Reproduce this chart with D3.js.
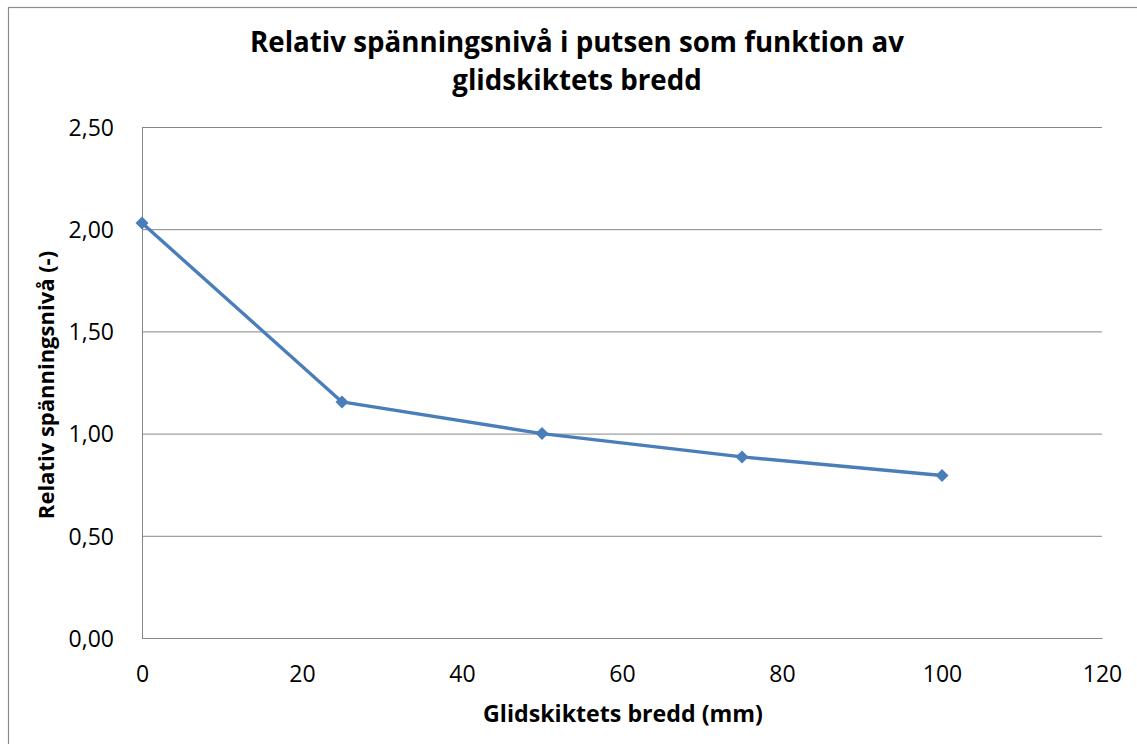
<!DOCTYPE html>
<html>
<head>
<meta charset="utf-8">
<script src="https://cdn.jsdelivr.net/npm/d3@7"></script>
<style>
  html, body { margin: 0; padding: 0; background: #fff; }
  svg { display: block; }
  text { font-family: "Open Sans", Lato, sans-serif; fill: #000; }
</style>
</head>
<body>
<svg id="chart" width="1137" height="744"></svg>
<script>
// Series: relative stress level in the render vs. width of the sliding layer
const widthMm = [0, 25, 50, 75, 100];
const stressLevel = [2.03, 1.155, 1.00, 0.886, 0.795];
const xTicks = [0, 20, 40, 60, 80, 100, 120];
const yTicks = [0, 0.5, 1.0, 1.5, 2.0, 2.5];
const titleLines = ["Relativ spänningsnivå i putsen som funktion av", "glidskiktets bredd"];
const xTitle = "Glidskiktets bredd (mm)";
const yTitle = "Relativ spänningsnivå (-)";

const svg = d3.select("#chart");
const W = 1137, H = 744;
const plot = { left: 142, right: 1102, top: 127, bottom: 638 };

const x = d3.scaleLinear().domain([0, 120]).range([plot.left, plot.right]);
const y = d3.scaleLinear().domain([0, 2.5]).range([plot.bottom, plot.top]);

// Outer chart frame
svg.append("rect")
  .attr("x", 8.5).attr("y", 7.5)
  .attr("width", W + 10).attr("height", H + 10)
  .attr("fill", "#fff").attr("stroke", "#8c8c8c").attr("stroke-width", 1.2);

// Horizontal gridlines with value labels
const yAxis = d3.axisLeft(y).tickValues(yTicks).tickSize(-(plot.right - plot.left))
  .tickFormat(d => d3.format(".2f")(d).replace(".", ","));
const gy = svg.append("g").attr("transform", `translate(${plot.left},0)`).call(yAxis);
gy.select(".domain").attr("stroke", "#868686");
gy.selectAll(".tick line").attr("stroke", "#868686").attr("stroke-width", 1);
gy.selectAll(".tick text").attr("x", -28).attr("dy", "0.36em")
  .style("font-size", "23px").style("font-family", "'Open Sans', sans-serif");

// Bottom axis
const xAxis = d3.axisBottom(x).tickValues(xTicks).tickSize(0).tickFormat(d3.format("d"));
const gx = svg.append("g").attr("transform", `translate(0,${plot.bottom})`).call(xAxis);
gx.select(".domain").attr("stroke", "#868686").attr("stroke-width", 1);
gx.selectAll(".tick text").attr("y", 44).attr("dy", "0")
  .style("font-size", "23px").style("font-family", "'Open Sans', sans-serif");

// Data line
const pts = widthMm.map((d, i) => [d, stressLevel[i]]);
svg.append("path")
  .datum(pts)
  .attr("fill", "none")
  .attr("stroke", "#4a7ebb")
  .attr("stroke-width", 3.4)
  .attr("stroke-linejoin", "round")
  .attr("d", d3.line().x(d => x(d[0])).y(d => y(d[1])));

// Diamond markers
const r = 6.5;
svg.selectAll(".marker")
  .data(pts)
  .join("path")
  .attr("class", "marker")
  .attr("transform", d => `translate(${x(d[0])},${y(d[1])})`)
  .attr("d", `M0,${-r}L${r},0L0,${r}L${-r},0Z`)
  .attr("fill", "#4a7ebb");

// Titles
svg.append("g").selectAll("text")
  .data(titleLines)
  .join("text")
  .attr("x", 577)
  .attr("y", (d, i) => 52 + i * 38)
  .attr("text-anchor", "middle")
  .style("font-size", "27.7px")
  .style("font-weight", "bold")
  .text(d => d);

svg.append("text")
  .attr("x", 623).attr("y", 722)
  .attr("text-anchor", "middle")
  .style("font-size", "23.2px").style("font-weight", "bold")
  .text(xTitle);

svg.append("text")
  .attr("transform", "translate(54,385) rotate(-90)")
  .attr("text-anchor", "middle")
  .style("font-size", "22px").style("font-weight", "bold")
  .text(yTitle);
</script>
</body>
</html>
